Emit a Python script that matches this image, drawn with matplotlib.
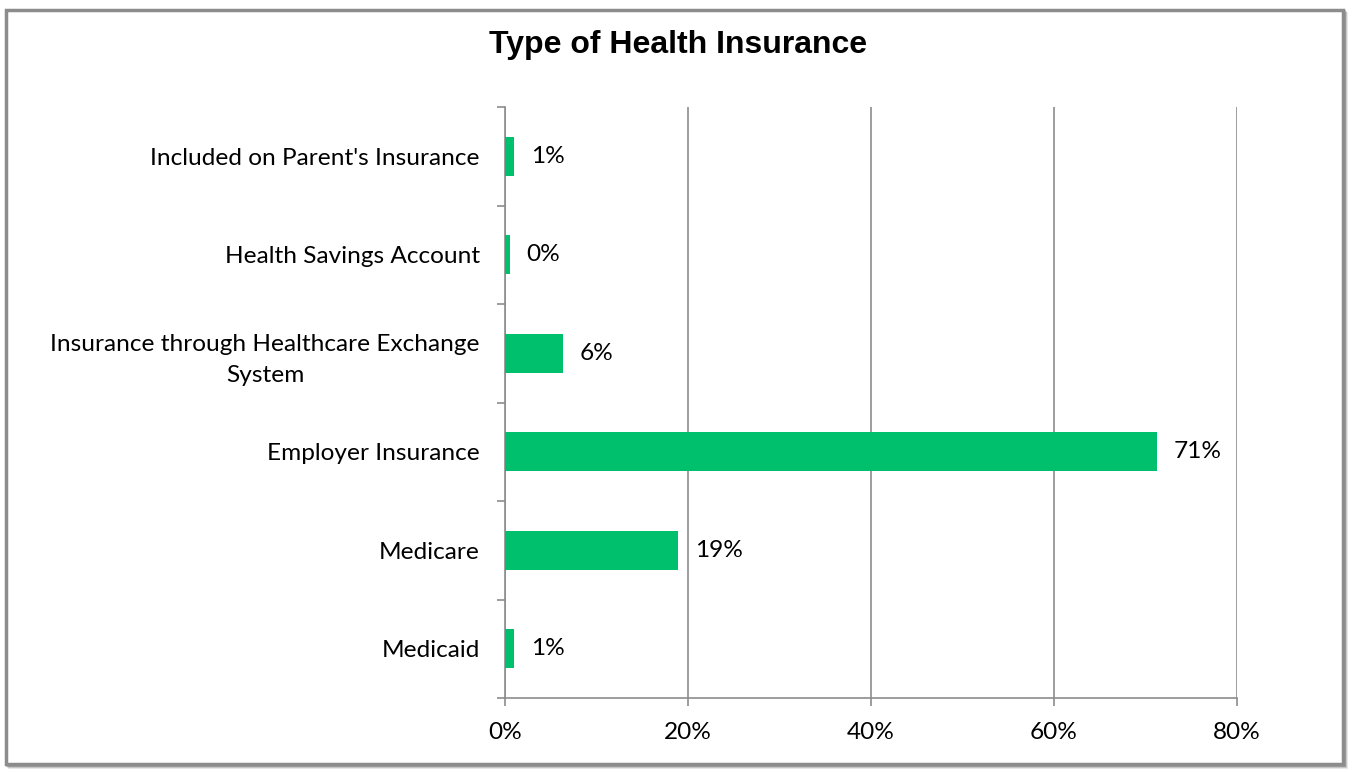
import matplotlib
matplotlib.use("Agg")
import matplotlib.pyplot as plt
from matplotlib.patches import Rectangle
from matplotlib.ticker import FuncFormatter, MultipleLocator

categories = [
    "Medicaid",
    "Medicare",
    "Employer Insurance",
    "Insurance through Healthcare Exchange\nSystem",
    "Health Savings Account",
    "Included on Parent's Insurance",
]
values = [1.0, 18.9, 71.3, 6.3, 0.5, 1.0]
labels = ["1%", "19%", "71%", "6%", "0%", "1%"]

W, H = 1353, 772
FS = 17.6
fig = plt.figure(figsize=(W / 100, H / 100), dpi=100)
plt.rcParams["font.family"] = ["Lato", "DejaVu Sans"]

# chart frame with a soft shadow (kept behind the axes)
for i, a in enumerate([0.10, 0.15, 0.22]):
    off = (3 - i)
    fig.patches.append(Rectangle(((6 + off) / W, (8 - off) / H), (W - 16) / W, (H - 18) / H,
                                 transform=fig.transFigure, facecolor="none",
                                 edgecolor=(0, 0, 0, a), linewidth=2, zorder=-10))
fig.patches.append(Rectangle((6 / W, 8 / H), (W - 16) / W, (H - 18) / H,
                             transform=fig.transFigure, facecolor="white",
                             edgecolor="#8c8c8c", linewidth=2.5, zorder=-9))

ax = fig.add_axes([505 / W, 1 - 698 / H, (1237 - 505) / W, (698 - 107) / H])
ax.set_facecolor("none")

pos = list(range(len(categories)))
ax.barh(pos, values, height=0.4, color="#00c06e", zorder=3)
for p, v, t in zip(pos, values, labels):
    ax.annotate(t, (v, p), xytext=(12, 0), textcoords="offset points",
                va="center", ha="left", fontsize=FS, color="black")

ax.set_xlim(0, 80)
ax.set_ylim(-0.5, len(categories) - 0.5)
ax.xaxis.set_major_locator(MultipleLocator(20))
ax.xaxis.set_major_formatter(FuncFormatter(lambda x, _: f"{x:.0f}%"))
ax.set_yticks(pos)
ax.set_yticklabels(categories, multialignment="center", linespacing=1.55)
ax.set_yticks([p + 0.5 for p in [-1] + pos], minor=True)
ax.tick_params(axis="y", which="major", length=0, pad=18, labelsize=FS)
ax.tick_params(axis="y", which="minor", length=6, color="#8c8c8c", width=1.2)
ax.tick_params(axis="x", length=6, color="#8c8c8c", width=1.2, pad=11, labelsize=FS)

ax.grid(axis="x", color="#8c8c8c", linewidth=1.2, zorder=0)
for s in ["top", "right"]:
    ax.spines[s].set_visible(False)
for s in ["left", "bottom"]:
    ax.spines[s].set_color("#8c8c8c")
    ax.spines[s].set_linewidth(1.2)

fig.text(678 / W, 1 - 45 / H, "Type of Health Insurance", ha="center", va="center",
         fontsize=23, fontweight="bold", family=["Liberation Sans", "DejaVu Sans"])

fig.savefig("out.png", dpi=100)
